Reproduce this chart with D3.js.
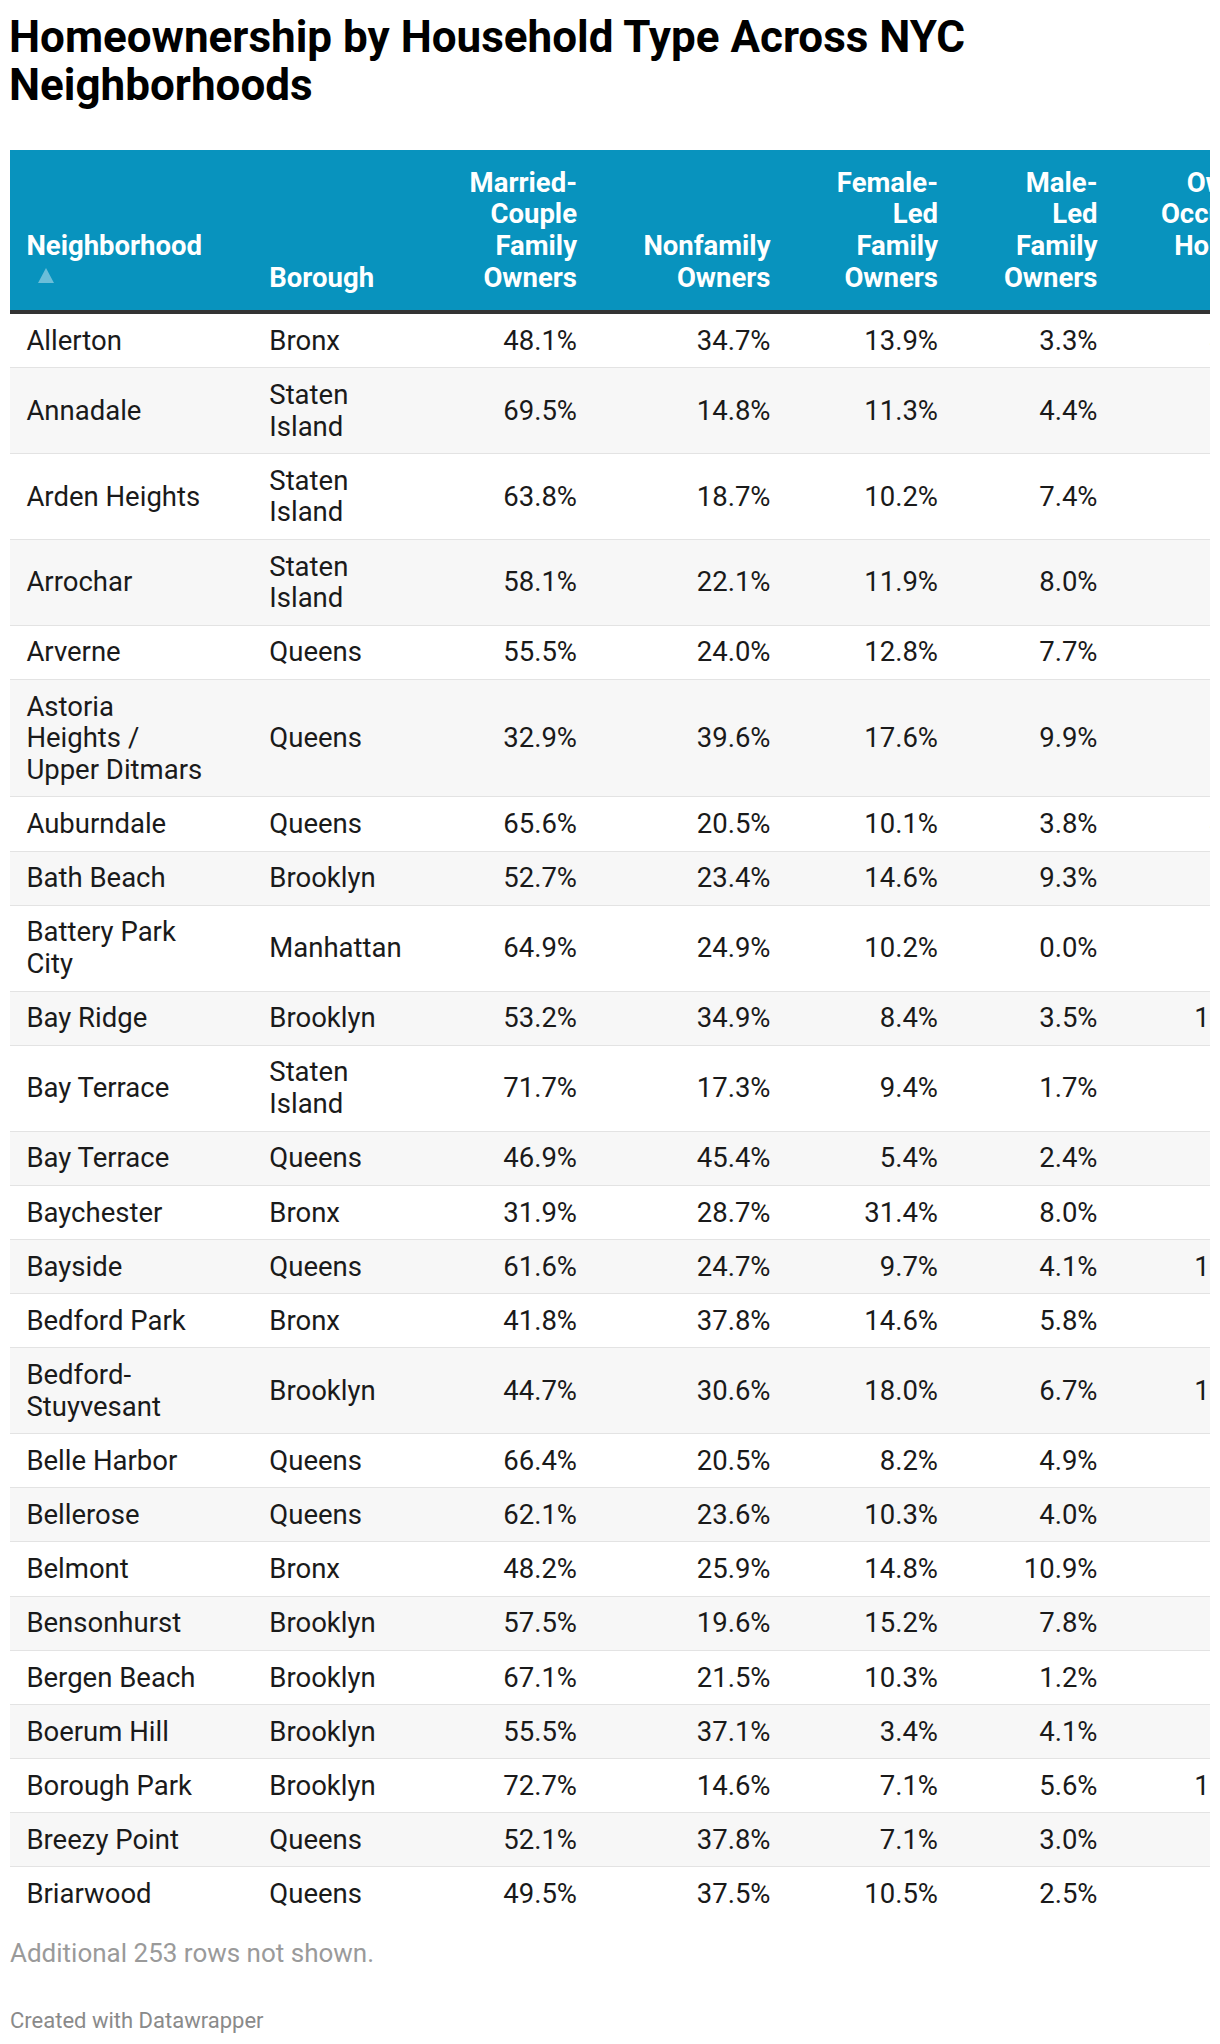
<!DOCTYPE html>
<html>
<head>
<meta charset="utf-8">
<script src="https://cdn.jsdelivr.net/npm/d3@7"></script>
<style>
body { margin: 0; background: #fff; font-family: Roboto, "Noto Sans", sans-serif; }
#chart { position: absolute; left: 10px; top: 0; width: 1200px; }
h1 { font-size: 44px; line-height: 48.4px; font-weight: 700; color: #000; margin: 12.5px 0 0 -1px; }
.wrap { margin-top: 40.7px; width: 1200px; overflow: hidden; }
table { border-collapse: separate; border-spacing: 0; table-layout: fixed; width: 1281px; }
th { background: #0893be; color: #fff; font-weight: 700; font-size: 27.5px; line-height: 31.67px;
     vertical-align: bottom; padding-top: 16.5px; padding-bottom: 16.8px; border-bottom: 4px solid #333; box-sizing: border-box; }
td { font-size: 27.5px; line-height: 31.67px; color: #1a1a1a; vertical-align: middle;
     padding-top: 10.76px; padding-bottom: 10.76px; border-bottom: 1px solid #e3e3e3; box-sizing: border-box; }
tbody tr:last-child td { border-bottom: none; }
tbody tr:nth-child(even) td { background: #f7f7f7; }
.sort { height: 31.67px; box-sizing: border-box; padding: 6.5px 0 0 11.3px; }
.sort svg { display: block; }
.note { font-size: 26px; line-height: 31.2px; color: #9a9a9a; margin-top: 17.1px; }
.credit { font-size: 22px; line-height: 26.4px; color: #8a8a8a; margin-top: 39.3px; }
</style>
</head>
<body>
<div id="chart"></div>
<script>
var title = "Homeownership by Household Type Across NYC Neighborhoods";

var headers = ["Neighborhood", "Borough", "Married-Couple Family Owners", "Nonfamily Owners",
  "Female-Led Family Owners", "Male-Led Family Owners", "Owner-Occupied Housing Units"];

var neighborhoods = ["Allerton", "Annadale", "Arden Heights", "Arrochar", "Arverne",
  "Astoria Heights / Upper Ditmars", "Auburndale", "Bath Beach", "Battery Park City", "Bay Ridge",
  "Bay Terrace", "Bay Terrace", "Baychester", "Bayside", "Bedford Park", "Bedford-Stuyvesant",
  "Belle Harbor", "Bellerose", "Belmont", "Bensonhurst", "Bergen Beach", "Boerum Hill",
  "Borough Park", "Breezy Point", "Briarwood"];

var boroughs = ["Bronx", "Staten Island", "Staten Island", "Staten Island", "Queens",
  "Queens", "Queens", "Brooklyn", "Manhattan", "Brooklyn",
  "Staten Island", "Queens", "Bronx", "Queens", "Bronx", "Brooklyn",
  "Queens", "Queens", "Bronx", "Brooklyn", "Brooklyn", "Brooklyn",
  "Brooklyn", "Queens", "Queens"];

var marriedCouple = [48.1, 69.5, 63.8, 58.1, 55.5, 32.9, 65.6, 52.7, 64.9, 53.2, 71.7, 46.9, 31.9,
  61.6, 41.8, 44.7, 66.4, 62.1, 48.2, 57.5, 67.1, 55.5, 72.7, 52.1, 49.5];
var nonfamily = [34.7, 14.8, 18.7, 22.1, 24.0, 39.6, 20.5, 23.4, 24.9, 34.9, 17.3, 45.4, 28.7,
  24.7, 37.8, 30.6, 20.5, 23.6, 25.9, 19.6, 21.5, 37.1, 14.6, 37.8, 37.5];
var femaleLed = [13.9, 11.3, 10.2, 11.9, 12.8, 17.6, 10.1, 14.6, 10.2, 8.4, 9.4, 5.4, 31.4,
  9.7, 14.6, 18.0, 8.2, 10.3, 14.8, 15.2, 10.3, 3.4, 7.1, 7.1, 10.5];
var maleLed = [3.3, 4.4, 7.4, 8.0, 7.7, 9.9, 3.8, 9.3, 0.0, 3.5, 1.7, 2.4, 8.0,
  4.1, 5.8, 6.7, 4.9, 4.0, 10.9, 7.8, 1.2, 4.1, 5.6, 3.0, 2.5];
// last column is cut off by the frame; only the leading "1" of the large counts shows
var ownerUnits = [4812, 2905, 5473, 1628, 3914, 2187, 4256, 3362, 2741, 11862, 1904, 3518, 2836,
  10457, 1733, 12069, 1245, 2608, 716, 8943, 2391, 1552, 13274, 1389, 3086];

var hiddenRows = 253;

var pct = function (v) { return d3.format(".1f")(v) + "%"; };
var count = d3.format(",");

var columns = [
  { w: 243,   pl: 16.4, pr: 46.6, align: "left" },
  { w: 167,   pl: 16.3, pr: 5.7,  align: "left" },
  { w: 173,   pl: 7,    pr: 16,   align: "right" },
  { w: 193.5, pl: 16,   pr: 16,   align: "right" },
  { w: 167.5, pl: 41.5, pr: 16,   align: "right" },
  { w: 159.5, pl: 41.5, pr: 16,   align: "right" },
  { w: 177.5, pl: 23.5, pr: 14,   align: "right" }
];

var rows = neighborhoods.map(function (n, i) {
  return [n, boroughs[i], pct(marriedCouple[i]), pct(nonfamily[i]), pct(femaleLed[i]),
    pct(maleLed[i]), count(ownerUnits[i])];
});

function cellStyle(sel) {
  sel.style("text-align", function (d, i) { return columns[i].align; })
    .style("padding-left", function (d, i) { return columns[i].pl + "px"; })
    .style("padding-right", function (d, i) { return columns[i].pr + "px"; });
}

var root = d3.select("#chart");
root.append("h1").text(title);

var table = root.append("div").attr("class", "wrap").append("table");

table.append("colgroup").selectAll("col")
  .data(columns)
  .enter().append("col")
  .style("width", function (d) { return d.w + "px"; });

var th = table.append("thead").append("tr").selectAll("th")
  .data(headers)
  .enter().append("th")
  .call(cellStyle)
  .text(function (d) { return d; });

// sort arrow under the first header
var arrow = d3.select(th.nodes()[0]).append("div").attr("class", "sort")
  .append("svg").attr("width", 16).attr("height", 15);
arrow.append("path").attr("d", "M8,0 L16,15 L0,15 Z").attr("fill", "#6bbed9");

table.append("tbody").selectAll("tr")
  .data(rows)
  .enter().append("tr")
  .selectAll("td")
  .data(function (d) { return d; })
  .enter().append("td")
  .call(cellStyle)
  .text(function (d) { return d; });

root.append("div").attr("class", "note").text("Additional " + hiddenRows + " rows not shown.");
root.append("div").attr("class", "credit").text("Created with Datawrapper");
</script>
</body>
</html>
